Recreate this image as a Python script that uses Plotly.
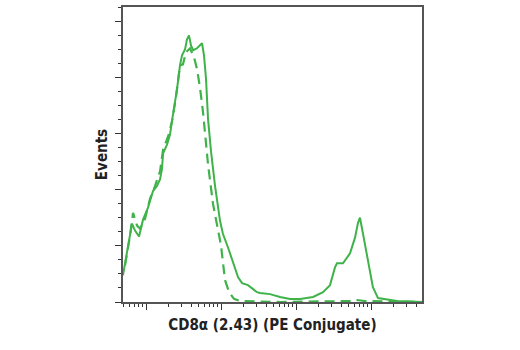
import plotly.graph_objects as go

# Solid histogram (CD8a stained)
solid_x = [4.93, 5.58, 6.31, 6.5, 7.13, 8.07, 9.12, 10.6, 11.3, 12.4, 14.0, 15.4, 16.3, 16.9,
           19.1, 20.9, 22.2, 24.4, 25.9, 28.4, 30.2, 33.1, 35.2, 37.4, 39.8, 42.4, 47.9, 55.8,
           59.3, 63.1, 67.1, 73.6, 83.2, 97.0, 106, 124, 145, 169, 191, 229, 302, 331, 450,
           612, 832, 1130, 1690, 2290, 2840, 3310, 3520, 4230, 5250, 6120, 6710, 7130, 7820,
           9120, 10600, 12400, 17900, 22200, 47900]
solid_y = [9.5, 17.6, 26.5, 27.9, 25.4, 23.3, 29.3, 33.5, 36.0, 39.5, 41.3, 43.7, 47.3, 52.9,
           56.1, 59.6, 64.5, 71.2, 75.8, 84.3, 87.8, 89.9, 93.5, 94.9, 91.3, 89.6, 90.3, 92.1,
           87.8, 79.4, 65.2, 53.6, 41.3, 28.9, 24.3, 19.4, 13.8, 8.8, 6.7, 6.0, 3.5, 3.2, 2.8,
           1.8, 1.1, 1.1, 1.8, 3.5, 6.0, 12.3, 13.8, 13.8, 17.3, 22.9, 28.2, 30.0, 24.3,
           14.8, 5.3, 1.4, 0.7, 0.35, 0]

# Dashed histogram (isotype control)
dash_x = [5.25, 6.12, 6.71, 7.59, 8.32, 9.70, 11.3, 13.2, 15.4, 16.9, 19.7, 22.2, 25.1, 26.7,
          28.4, 31.1, 34.1, 38.6, 43.7, 47.9, 52.5, 57.5, 61.2, 67.1, 78.2, 88.4, 100, 113,
          128, 149, 179, 612, 5250, 6500, 8320, 47900]
dash_y = [13.1, 23.6, 31.7, 27.2, 26.1, 29.6, 36.7, 41.3, 46.6, 54.3, 58.9, 64.2, 73.0, 78.3,
          84.3, 84.6, 88.9, 90.3, 87.1, 82.9, 76.2, 67.7, 60.7, 49.0, 34.9, 27.9, 20.1, 7.8,
          3.5, 1.1, 0.35, 0, 0.35, 0.7, 0.35, 0]

x_major = [10, 100, 1000, 10000]
x_minor = [m * d for d in [1, 10, 100, 1000, 10000] for m in range(2, 10)]
x_minor = [v for v in x_minor if 4.9 <= v <= 48000]

GREEN = "#3fb34a"
FONT = "DejaVu Sans Condensed, Roboto, Arial, sans-serif"

fig = go.Figure()
fig.add_trace(go.Scatter(x=dash_x, y=dash_y, mode="lines",
                         line=dict(color=GREEN, width=2.2, dash="10px,6px"), showlegend=False))
fig.add_trace(go.Scatter(x=solid_x, y=solid_y, mode="lines",
                         line=dict(color=GREEN, width=2), showlegend=False))

fig.update_layout(
    width=520, height=350,
    margin=dict(l=123, r=98, t=5, b=48),
    paper_bgcolor="white", plot_bgcolor="white",
    xaxis=dict(type="log", range=[0.693, 4.68], showgrid=False, zeroline=False,
               showline=True, linecolor="#555", linewidth=1.5, mirror=True,
               tickvals=x_major, showticklabels=False, ticks="outside", ticklen=6,
               tickcolor="#333", tickwidth=1.2,
               minor=dict(tickvals=x_minor, ticks="outside", ticklen=3, tickcolor="#333"),
               title=dict(text="CD8α (2.43) (PE Conjugate)",
                          font=dict(family=FONT, size=15, color="#222", weight="bold"),
                          standoff=11)),
    yaxis=dict(range=[0, 105], showgrid=False, zeroline=False,
               showline=True, linecolor="#555", linewidth=1.5, mirror=True,
               tick0=0, dtick=20, showticklabels=False, ticks="outside", ticklen=6,
               tickcolor="#333", tickwidth=1.2,
               minor=dict(dtick=5, ticks="outside", ticklen=3, tickcolor="#333"),
               title=dict(text="Events",
                          font=dict(family=FONT, size=15, color="#222", weight="bold"),
                          standoff=4)),
)

fig.write_html("out.html")
